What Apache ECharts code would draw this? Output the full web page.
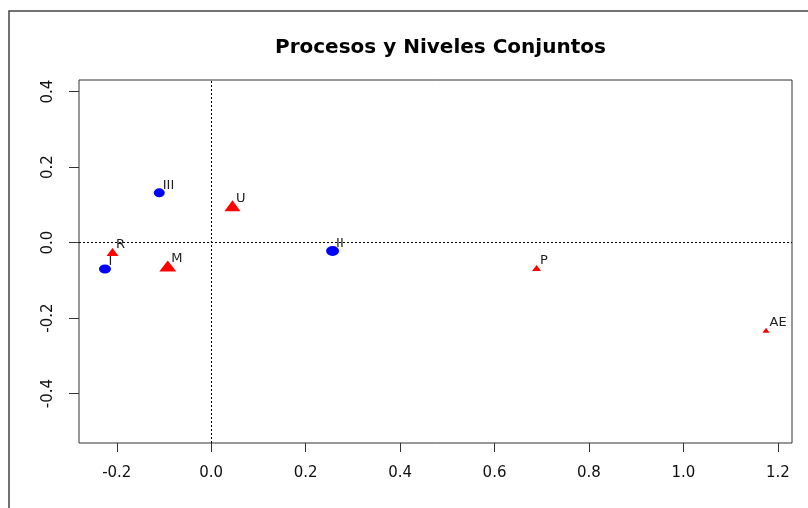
<!DOCTYPE html>
<html>
<head>
<meta charset="utf-8">
<script src="https://cdn.jsdelivr.net/npm/echarts@6/dist/echarts.min.js"></script>
<style>
html,body{margin:0;padding:0;background:#fff;}
#chart{width:808px;height:508px;}
</style>
</head>
<body>
<div id="chart"></div>
<script>
// ---- data ----
const chartTitle = 'Procesos y Niveles Conjuntos';
const circleLabels = ['I', 'II', 'III'];
const circleX = [-0.225, 0.257, -0.110];
const circleY = [-0.070, -0.022, 0.132];
const triangleLabels = ['R', 'M', 'U', 'P', 'AE'];
const triangleX = [-0.209, -0.092, 0.045, 0.689, 1.175];
const triangleY = [-0.025, -0.062, 0.098, -0.067, -0.232];
const xTicks = [-0.2, 0.0, 0.2, 0.4, 0.6, 0.8, 1.0, 1.2];
const yTicks = [-0.4, -0.2, 0.0, 0.2, 0.4];

// ---- marker sizes (style, kept apart from data) ----
const circleSizes = [[12, 9], [13, 10], [11, 9]];
const triangleSizes = [[12, 8], [17, 11], [16, 11], [9, 6], [7, 5]];

const circleData = circleX.map((x, i) => ({ value: [x, circleY[i]], name: circleLabels[i] }));
const triangleData = triangleX.map((x, i) => ({ value: [x, triangleY[i]], name: triangleLabels[i] }));

const pointLabel = {
  show: true,
  position: 'inside',
  align: 'left',
  verticalAlign: 'middle',
  offset: [3.5, -7.5],
  formatter: p => p.name,
  color: '#222',
  fontFamily: 'DejaVu Sans',
  fontSize: 13
};

const chart = echarts.init(document.getElementById('chart'), null, { renderer: 'canvas' });
chart.setOption({
  animation: false,
  backgroundColor: '#fff',
  title: {
    text: chartTitle,
    left: 270,
    top: 33,
    textStyle: { fontFamily: 'DejaVu Sans', fontWeight: 'bold', fontSize: 20, color: '#000' }
  },
  graphic: [{
    type: 'rect',
    shape: { x: 9, y: 11, width: 830, height: 530 },
    style: { fill: 'none', stroke: '#444', lineWidth: 1.5 },
    silent: true
  }],
  grid: {
    left: 79, right: 16, top: 80, bottom: 65,
    show: true, borderColor: '#333', borderWidth: 1, backgroundColor: 'transparent'
  },
  xAxis: {
    type: 'value',
    min: -0.28, max: 1.23,
    axisLine: { show: false, onZero: false },
    splitLine: { show: false },
    axisTick: { show: true, length: 9, customValues: xTicks, lineStyle: { color: '#333' } },
    axisLabel: {
      customValues: xTicks,
      formatter: v => v.toFixed(1),
      margin: 23,
      fontFamily: 'DejaVu Sans', fontSize: 15, color: '#111'
    }
  },
  yAxis: {
    type: 'value',
    min: -0.531, max: 0.431,
    axisLine: { show: false, onZero: false },
    splitLine: { show: false },
    axisTick: { show: true, length: 10, customValues: yTicks, lineStyle: { color: '#333' } },
    axisLabel: {
      customValues: yTicks,
      formatter: v => v.toFixed(1),
      rotate: 90,
      margin: 23,
      fontFamily: 'DejaVu Sans', fontSize: 15, color: '#111'
    }
  },
  series: [
    {
      name: 'Procesos',
      type: 'scatter',
      symbol: 'circle',
      symbolSize: (v, p) => circleSizes[p.dataIndex],
      itemStyle: { color: '#0000FF', opacity: 1 },
      label: pointLabel,
      data: circleData,
      z: 3,
      markLine: {
        silent: true,
        symbol: ['none', 'none'],
        label: { show: false },
        lineStyle: { color: '#000', type: [2, 2], width: 1 },
        data: [{ xAxis: 0 }, { yAxis: 0 }]
      }
    },
    {
      name: 'Niveles',
      type: 'scatter',
      symbol: 'triangle',
      symbolSize: (v, p) => triangleSizes[p.dataIndex],
      itemStyle: { color: '#FF0000', opacity: 1 },
      label: pointLabel,
      data: triangleData,
      z: 3
    }
  ]
});
</script>
</body>
</html>
